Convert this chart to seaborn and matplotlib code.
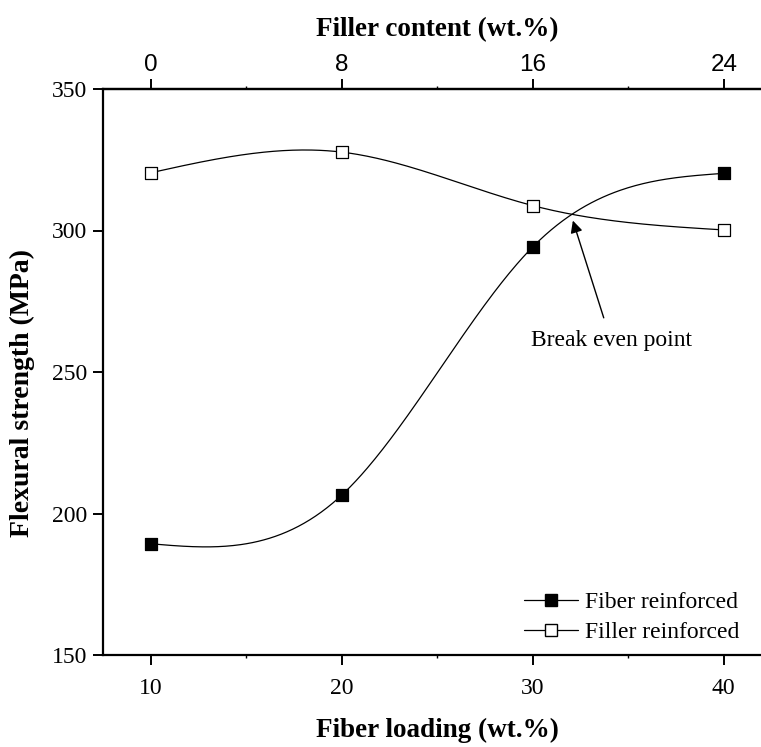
import numpy as np
import pandas as pd
import matplotlib
matplotlib.use("Agg")
import matplotlib.pyplot as plt
from matplotlib.lines import Line2D
import seaborn as sns

# ---- data ----
fiber_loading = [10, 20, 30, 40]
filler_content = [0, 8, 16, 24]
fiber_reinforced = [189.3, 206.5, 294.2, 320.2]
filler_reinforced = [320.4, 327.7, 308.8, 300.2]
y_ticks = [150, 200, 250, 300, 350]


def natural_spline(x, y, n=300):
    x = np.asarray(x, float)
    y = np.asarray(y, float)
    k = len(x)
    h = np.diff(x)
    A = np.zeros((k, k))
    b = np.zeros(k)
    A[0, 0] = 1
    A[-1, -1] = 1
    for i in range(1, k - 1):
        A[i, i - 1] = h[i - 1]
        A[i, i] = 2 * (h[i - 1] + h[i])
        A[i, i + 1] = h[i]
        b[i] = 3 * ((y[i + 1] - y[i]) / h[i] - (y[i] - y[i - 1]) / h[i - 1])
    c = np.linalg.solve(A, b)
    xs = np.linspace(x[0], x[-1], n)
    ys = np.empty_like(xs)
    for j, xv in enumerate(xs):
        i = min(np.searchsorted(x, xv, side="right") - 1, k - 2)
        dx = xv - x[i]
        bi = (y[i + 1] - y[i]) / h[i] - h[i] * (2 * c[i] + c[i + 1]) / 3
        di = (c[i + 1] - c[i]) / (3 * h[i])
        ys[j] = y[i] + bi * dx + c[i] * dx ** 2 + di * dx ** 3
    return xs, ys


sns.set_theme(style="ticks")
plt.rcParams["font.family"] = ["Liberation Serif", "DejaVu Serif"]
plt.rcParams["text.color"] = "black"
plt.rcParams["axes.labelcolor"] = "black"
plt.rcParams["xtick.color"] = "black"
plt.rcParams["ytick.color"] = "black"
plt.rcParams["axes.edgecolor"] = "black"

fig = plt.figure(figsize=(7.61, 7.47), dpi=100)
W, H = 761, 747
ax = fig.add_axes([103 / W, 1 - 655 / H, 668.5 / W, 566 / H])

df = pd.DataFrame({"loading": fiber_loading,
                   "Fiber reinforced": fiber_reinforced,
                   "Filler reinforced": filler_reinforced})

for col, face in [("Fiber reinforced", "black"), ("Filler reinforced", "white")]:
    xs, ys = natural_spline(df["loading"], df[col])
    sns.lineplot(x=xs, y=ys, ax=ax, color="black", linewidth=0.9, sort=False)
    sns.scatterplot(data=df, x="loading", y=col, ax=ax, marker="s", s=80,
                    facecolor=face, edgecolor="black", linewidth=0.9, zorder=5)

ax.set_xlim(7.5, 42.5)
ax.set_ylim(150, 350)
ax.set_xticks(fiber_loading)
ax.set_xticks([15, 25, 35], minor=True)
ax.set_yticks(y_ticks)
ax.tick_params(axis="both", which="major", direction="out", length=7.2, width=1.4,
               labelsize=17, colors="black")
ax.tick_params(axis="x", which="major", pad=9)
ax.tick_params(axis="y", which="major", pad=4)
ax.tick_params(axis="x", which="minor", direction="out", length=2.5, width=1.0)
for sp in ["left", "bottom", "top"]:
    ax.spines[sp].set_linewidth(1.6)
    ax.spines[sp].set_color("black")
ax.spines["right"].set_visible(False)

ax.set_xlabel("Fiber loading (wt.%)", fontsize=19.5, fontweight="bold", labelpad=14)
ax.set_ylabel("Flexural strength (MPa)", fontsize=20, fontweight="bold", labelpad=12,
              y=0.463)

sec = ax.secondary_xaxis("top", functions=(lambda v: (np.asarray(v) - 10) * 0.8,
                                           lambda f: np.asarray(f) / 0.8 + 10))
sec.set_xticks(filler_content)
sec.set_xticks([4, 12, 20], minor=True)
sec.tick_params(axis="x", which="major", direction="out", length=7.2, width=1.4,
                labelsize=17.5, pad=2, colors="black")
sec.tick_params(axis="x", which="minor", direction="out", length=2.5, width=1.0)
for lab in sec.get_xticklabels():
    lab.set_family(["Liberation Sans", "DejaVu Sans"])
sec.spines["top"].set_linewidth(1.6)
sec.spines["top"].set_color("black")
sec.set_xlabel("Filler content (wt.%)", fontsize=19.5, fontweight="bold", labelpad=13)

ax.annotate("Break even point", xy=(32.1, 303.5), xytext=(34.1, 261),
            ha="center", va="center", fontsize=17,
            arrowprops=dict(arrowstyle="-|>", color="black", lw=1.0,
                            shrinkA=7, shrinkB=0, mutation_scale=18))

handles = [
    Line2D([], [], color="black", lw=0.9, marker="s", markersize=8.5,
           markerfacecolor="black", markeredgecolor="black"),
    Line2D([], [], color="black", lw=0.9, marker="s", markersize=8.5,
           markerfacecolor="white", markeredgecolor="black"),
]
ax.legend(handles, ["Fiber reinforced", "Filler reinforced"], loc="lower right",
          bbox_to_anchor=((749 - 103) / 668.5, 0.004), frameon=False, fontsize=17,
          handlelength=2.3, handletextpad=0.3, labelspacing=0.36,
          borderaxespad=0.0)

fig.savefig("out.png", dpi=100)
